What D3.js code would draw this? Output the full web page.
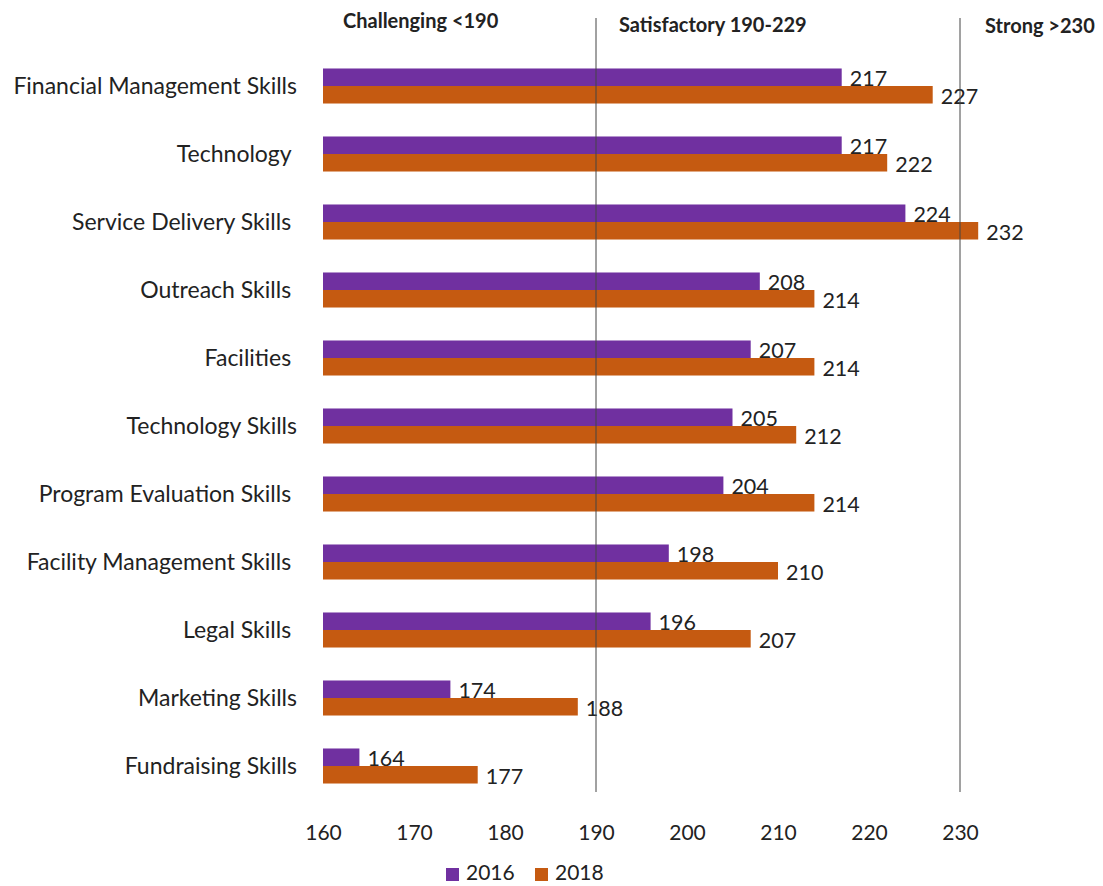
<!DOCTYPE html>
<html>
<head>
<meta charset="utf-8">
<script src="https://cdn.jsdelivr.net/npm/d3@7"></script>
<style>
  html, body { margin: 0; padding: 0; background: #fff; }
  svg text { font-family: Lato, "Open Sans", sans-serif; fill: #222; }
  .cat { white-space: pre; }
</style>
</head>
<body>
<svg id="chart" width="1103" height="886"></svg>
<script>
// Skill ratings by category, two survey years
const categories = [
  "Financial Management Skills",
  "Technology ",
  "Service Delivery Skills ",
  "Outreach Skills ",
  "Facilities ",
  "Technology Skills",
  "Program Evaluation Skills ",
  "Facility Management Skills ",
  "Legal Skills ",
  "Marketing Skills",
  "Fundraising Skills"
];
const years = ["2016", "2018"];
const values2016 = [217, 217, 224, 208, 207, 205, 204, 198, 196, 174, 164];
const values2018 = [227, 222, 232, 214, 214, 212, 214, 210, 207, 188, 177];
const xTicks = [160, 170, 180, 190, 200, 210, 220, 230];
const zoneLabels = ["Challenging <190", "Satisfactory 190-229", "Strong >230"];
const zoneBreaks = [190, 230];
const colors = ["#7030A0", "#C55A11"];

const svg = d3.select("#chart");

const x = d3.scaleLinear().domain([160, 230]).range([323, 960]);
const y = d3.scaleBand().domain(categories).range([52, 800])
  .paddingInner(0.485).paddingOuter(0.2425);
const y1 = d3.scaleBand().domain(years).range([0, y.bandwidth()]);

const rows = categories.map((c, i) => ({
  cat: c,
  vals: [
    { year: "2016", v: values2016[i] },
    { year: "2018", v: values2018[i] }
  ]
}));

// Bars
const groups = svg.append("g").selectAll("g").data(rows).join("g")
  .attr("transform", d => `translate(0,${y(d.cat)})`);

groups.selectAll("rect").data(d => d.vals).join("rect")
  .attr("x", x(160))
  .attr("y", d => y1(d.year))
  .attr("width", d => x(d.v) - x(160))
  .attr("height", y1.bandwidth())
  .attr("fill", (d, i) => colors[i]);

// Value labels
groups.selectAll("text.val").data(d => d.vals).join("text")
  .attr("class", "val")
  .attr("x", d => x(d.v) + 8)
  .attr("y", d => y1(d.year) + y1.bandwidth())
  .attr("font-size", 21.5)
  .text(d => d.v);

// Category labels
svg.append("g").selectAll("text").data(categories).join("text")
  .attr("class", "cat")
  .attr("x", 297)
  .attr("y", d => y(d) + y.bandwidth() / 2 + 8)
  .attr("text-anchor", "end")
  .attr("font-size", 23)
  .text(d => d);

// Zone boundary lines
svg.append("g").selectAll("line").data(zoneBreaks).join("line")
  .attr("x1", d => x(d)).attr("x2", d => x(d))
  .attr("y1", 18).attr("y2", 792)
  .attr("stroke", "#444").attr("stroke-width", 1);

// Zone headings
const zonePos = [
  { x: x(160) + 20, y: 28 },
  { x: x(190) + 23, y: 32 },
  { x: x(230) + 25, y: 33 }
];
svg.append("g").selectAll("text").data(zoneLabels).join("text")
  .attr("x", (d, i) => zonePos[i].x)
  .attr("y", (d, i) => zonePos[i].y)
  .attr("font-size", 20)
  .attr("font-weight", "bold")
  .text(d => d);

// X axis (labels only)
const axis = svg.append("g").attr("transform", "translate(0,800)")
  .call(d3.axisBottom(x).tickValues(xTicks).tickSize(0).tickFormat(d3.format("d")));
axis.select(".domain").remove();
axis.selectAll("text")
  .attr("y", 40).attr("dy", null)
  .attr("font-size", 21)
  .style("font-family", "Lato, 'Open Sans', sans-serif")
  .attr("fill", "#222");

// Legend
const legend = svg.append("g").attr("transform", "translate(446,868)");
const li = legend.selectAll("g").data(years).join("g")
  .attr("transform", (d, i) => `translate(${i * 89},0)`);
li.append("rect").attr("width", 13).attr("height", 13)
  .attr("fill", (d, i) => colors[i]);
li.append("text").attr("x", 20).attr("y", 12).attr("font-size", 21).text(d => d);
</script>
</body>
</html>
